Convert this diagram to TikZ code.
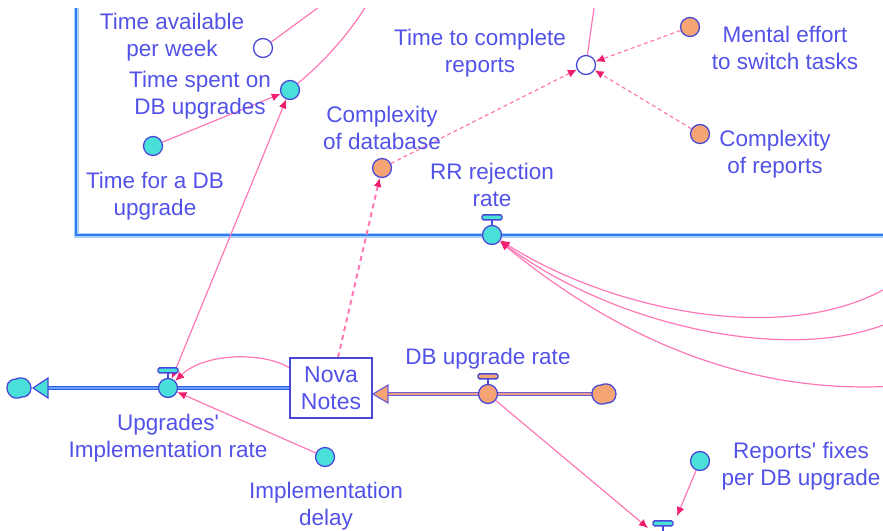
\documentclass[tikz,border=0pt]{standalone}
\usepackage{fontspec}
\setmainfont{Liberation Sans}
\usetikzlibrary{arrows.meta}

% plain font instance (no TeX quote mapping) for the straight apostrophe
\font\aposfont="Liberation Sans" at 22.5pt
\newcommand\apos{{\aposfont '}}

\definecolor{txt}{RGB}{82,82,232}
\definecolor{edge}{RGB}{72,72,215}
\definecolor{cyanf}{RGB}{74,224,218}
\definecolor{orangef}{RGB}{245,165,115}
\definecolor{linkc}{RGB}{255,120,182}
\definecolor{tipc}{RGB}{240,30,110}
\definecolor{stockc}{RGB}{45,125,240}
\definecolor{stockhalo}{RGB}{175,208,255}
\definecolor{pipeb}{RGB}{45,90,235}
\definecolor{pipel}{RGB}{105,160,252}
\definecolor{pipev}{RGB}{110,95,212}
\definecolor{pipeo}{RGB}{238,158,135}

\pgfdeclarelayer{bg}
\pgfsetlayers{bg,main}

\tikzset{
  lbl/.style={text=txt, align=center, inner sep=0pt,
    font=\fontsize{22.5}{27}\selectfont},
  aux/.style={circle, draw=edge, line width=1.3pt, minimum size=19pt, inner sep=0pt},
  cyanaux/.style={aux, fill=cyanf},
  orangeaux/.style={aux, fill=orangef},
  emptyaux/.style={aux, fill=white},
  stockbox/.style={rectangle, draw=edge, line width=1.2pt, fill=white,
    minimum width=82pt, minimum height=60pt, inner sep=0pt, text=txt,
    align=center, font=\fontsize{23}{27}\selectfont},
  link/.style={draw=linkc, line width=1.2pt},
  linkarrow/.style={link, -{Latex[color=tipc,length=9pt,width=8pt]}},
  twoway/.style={link, {Latex[color=tipc,length=9pt,width=8pt]}-{Latex[color=tipc,length=9pt,width=8pt]}},
  dashlink/.style={linkarrow, dash pattern=on 4pt off 3pt},
  dotlink/.style={linkarrow, line width=2pt, dash pattern=on 5pt off 4pt},
  bluepipe/.style={draw=pipeb, line width=1.4pt, double=pipel, double distance=1.5pt},
  orangepipe/.style={draw=pipev, line width=1.4pt, double=pipeo, double distance=1.5pt},
  capbox/.style={draw=edge, line width=1.3pt, rounded corners=1.5pt},
}

% valve handle drawn on top of a flow-rate circle
\newcommand\valvecap[2]{%
  \draw[edge, line width=1.3pt] (#1.north) -- ++(0,-5);
  \draw[capbox, fill=#2] ([shift={(-10,-5)}]#1.north) rectangle ([shift={(10,-10)}]#1.north);
}
% small cloud (source / sink) centred at a point
\newcommand\cloudat[3]{%
  \draw[draw=edge, line width=1.3pt, fill=#3, shift={(#1,#2)}]
    plot[smooth cycle, tension=0.8] coordinates {(-12,-1) (-9,-7) (-3,-9) (3,-10) (9,-7) (12,0) (9,7) (3,9) (-4,10) (-10,6)};
}

\begin{document}
\begin{tikzpicture}[x=1pt,y=-1pt]
\useasboundingbox (0,0) rectangle (883,530);
\clip (0,8) rectangle (883,530);

% ---------- auxiliaries and their labels ----------
\node[emptyaux]  (tav) at (263,48) {};
\node[lbl] (tavl) at (172,37) {Time available\\per week};
\node[cyanaux]   (tsp) at (290,90) {};
\node[lbl] (tspl) at (200,95) {Time spent on\\DB upgrades};
\node[cyanaux]   (tdb) at (153,146) {};
\node[lbl] (tdbl) at (155,196) {Time for a DB\\upgrade};
\node[orangeaux] (cdb) at (382,168) {};
\node[lbl] (cdbl) at (382,128) {Complexity\\of database};
\node[emptyaux]  (tcr) at (586,65) {};
\node[lbl] (tcrl) at (480,53) {Time to complete\\reports};
\node[orangeaux] (mef) at (690,27) {};
\node[lbl] (mefl) at (785,48) {Mental effort\\to switch tasks};
\node[orangeaux] (cre) at (700,134) {};
\node[lbl] (crel) at (775,154) {Complexity\\of reports};
\node[cyanaux]   (idl) at (325,457) {};
\node[lbl] (idll) at (326,506) {Implementation\\delay};
\node[cyanaux]   (rfx) at (700,461) {};
\node[lbl] (rfxl) at (801,466) {Reports\apos{} fixes\\per DB upgrade};

% ---------- stock and flows ----------
\node[stockbox] (nova) at (331,388) {Nova\\Notes};

\node[cyanaux] (rr) at (492,235) {};
\valvecap{rr}{cyanf}
\node[lbl] (rrl) at (492,185) {RR rejection\\rate};

\node[cyanaux] (upg) at (168,388) {};
\valvecap{upg}{cyanf}
\node[lbl] (upgl) at (168,438) {Upgrades\apos\\Implementation rate};

\node[orangeaux] (dbv) at (488,394) {};
\valvecap{dbv}{orangef}
\node[lbl] (dbvl) at (488,359) {DB upgrade rate};

\node[cyanaux] (rfv) at (663,541) {};
\valvecap{rfv}{cyanf}

% sinks / sources and flow arrowheads
\cloudat{19}{388}{cyanf}
\draw[draw=edge, line width=1.2pt, fill=cyanf] (33,388) -- (48,378) -- (48,398) -- cycle;
\cloudat{604}{394}{orangef}
\draw[draw=pipev, line width=1.2pt, fill=orangef] (373,394) -- (388,385) -- (388,403) -- cycle;

\coordinate (sinkend) at (48,388);
\coordinate (srcend) at (592,394);
\coordinate (novain) at (388,394);
\coordinate (tavout) at (345,-12);
\coordinate (tspout) at (372,-4);
\coordinate (tcrout) at (596,-6);
\coordinate (in1) at (895,283);
\coordinate (in2) at (895,320);
\coordinate (in3) at (895,386);
\coordinate (e1) at (648,528);
\coordinate (e2) at (677,516);

% ---------- connectors (behind the nodes) ----------
\begin{pgfonlayer}{bg}
\clip (0,8) rectangle (883,530);
% stock boundary
\draw[stockhalo, line width=5pt] (76,-20) -- (76,235) -- (900,235);
\draw[stockc, line width=2.6pt] (76,-20) -- (76,235) -- (900,235);
% flow pipes
\draw[bluepipe] (nova.west) -- (sinkend);
\draw[orangepipe] (srcend) -- (novain);
% information links
\draw[link] (tav) -- (tavout);
\draw[link] (tsp) .. controls (320,65) and (350,35) .. (tspout);
\draw[link] (tcr) -- (tcrout);
\draw[linkarrow] (tdb) -- (tsp);
\draw[twoway] (upg) -- (tsp);
\draw[dotlink] ([xshift=7pt]nova.north) -- (cdb);
\draw[dashlink] (cdb) -- (tcr);
\draw[dashlink] (mef) -- (tcr);
\draw[dashlink] (cre) -- (tcr);
\draw[linkarrow] ([yshift=20pt]nova.west) .. controls (265,352) and (205,352) .. (upg);
\draw[linkarrow] (idl) -- (upg);
\draw[linkarrow] (in1) .. controls (790,350) and (610,310) .. (rr);
\draw[linkarrow] (in2) .. controls (800,365) and (620,330) .. (rr);
\draw[linkarrow] (in3) .. controls (750,395) and (620,340) .. (rr);
\draw[linkarrow] (dbv) -- (e1);
\draw[linkarrow] (rfx) -- (e2);
\end{pgfonlayer}
\end{tikzpicture}
\end{document}
